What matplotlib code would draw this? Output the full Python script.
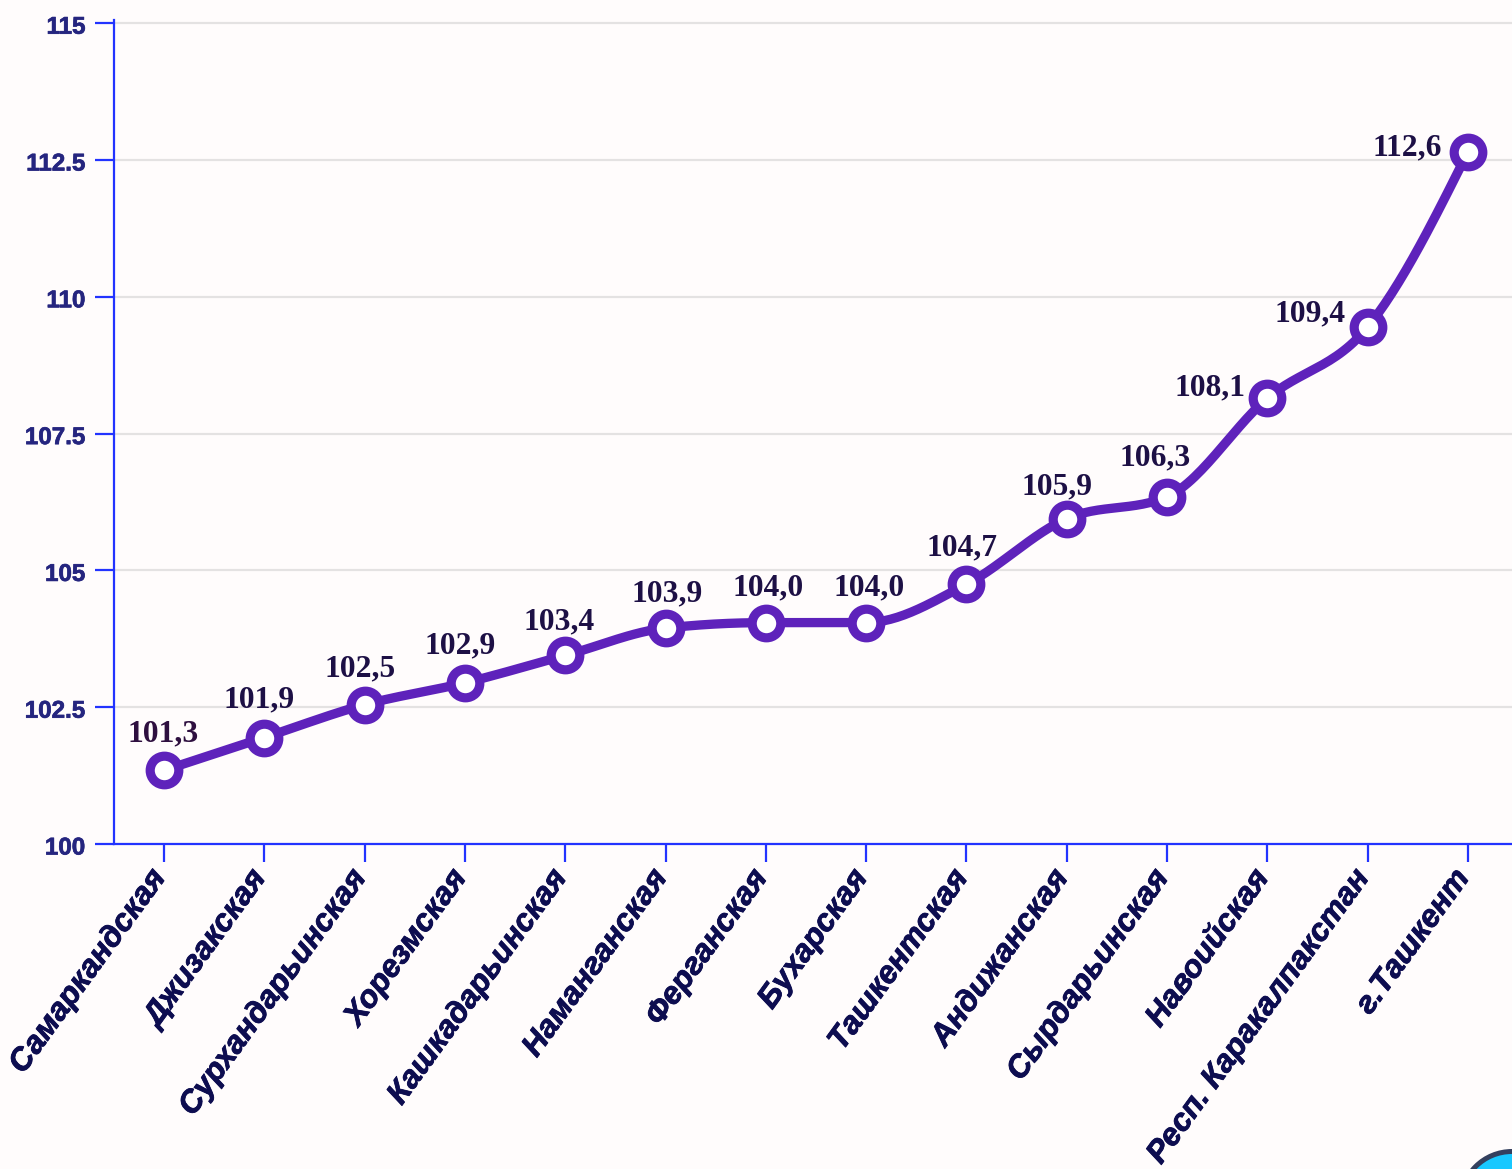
import numpy as np
import matplotlib
matplotlib.use("Agg")
import matplotlib.pyplot as plt
import matplotlib.patheffects as pe
from matplotlib.patches import Circle
from matplotlib.transforms import ScaledTranslation, IdentityTransform

regions = ["Самаркандская", "Джизакская", "Сурхандарьинская", "Хорезмская",
           "Кашкадарьинская", "Наманганская", "Ферганская", "Бухарская",
           "Ташкентская", "Андижанская", "Сырдарьинская", "Навоийская",
           "Респ. Каракалпакстан", "г.Ташкент"]
values = [101.3, 101.9, 102.5, 102.9, 103.4, 103.9, 104.0, 104.0,
          104.7, 105.9, 106.3, 108.1, 109.4, 112.6]
value_labels = ["101,3", "101,9", "102,5", "102,9", "103,4", "103,9", "104,0",
                "104,0", "104,7", "105,9", "106,3", "108,1", "109,4", "112,6"]
y_ticks = [100, 102.5, 105, 107.5, 110, 112.5, 115]
y_tick_labels = ["100", "102.5", "105", "107.5", "110", "112.5", "115"]

W, H = 1512, 1169
DPI = 100
BG = "#fffcfc"
AX = "#2233ff"
PURPLE = "#5e22bb"
LEFT, RIGHT, TOP, BOT = 114, 1512, 20, 844
STEP = 100.3
PX_PER_UNIT = 54.72


def monotone(xs, ys, n=30):
    """Monotone cubic curve between the points (the chart's smooth line)."""
    xs, ys = np.asarray(xs, float), np.asarray(ys, float)
    h = np.diff(xs)
    s = np.diff(ys) / h
    m = np.zeros_like(ys)
    for i in range(1, len(ys) - 1):
        p = (s[i - 1] * h[i] + s[i] * h[i - 1]) / (h[i - 1] + h[i])
        m[i] = (np.sign(s[i - 1]) + np.sign(s[i])) * min(abs(s[i - 1]), abs(s[i]), 0.5 * abs(p))
    m[0] = (3 * s[0] - m[1]) / 2
    m[-1] = (3 * s[-1] - m[-2]) / 2
    X, Y = [], []
    for i in range(len(h)):
        t = np.linspace(0, 1, n)
        a = 2 * t**3 - 3 * t**2 + 1
        b = t**3 - 2 * t**2 + t
        c = -2 * t**3 + 3 * t**2
        d = t**3 - t**2
        X.append(xs[i] + t * h[i])
        Y.append(a * ys[i] + b * h[i] * m[i] + c * ys[i + 1] + d * h[i] * m[i + 1])
    return np.concatenate(X), np.concatenate(Y)


def px(dx, dy):
    return ScaledTranslation(dx / DPI, dy / DPI, fig.dpi_scale_trans)


fig = plt.figure(figsize=(W / DPI, H / DPI), dpi=DPI, facecolor=BG)
ax = fig.add_axes([LEFT / W, 1 - BOT / H, (RIGHT - LEFT) / W, (BOT - TOP) / H], facecolor=BG)
ax.set_ylim(100, 100 + (BOT - TOP) / PX_PER_UNIT)
ax.set_xlim(-50 / STEP, (RIGHT - 164) / STEP)

pos = np.arange(len(regions))
cx, cy = monotone(pos, values)
mark_tr = ax.transData + px(0, 2.5)
ax.plot(cx, cy, color=PURPLE, lw=6.7, solid_capstyle="round", zorder=3, clip_on=False,
        transform=mark_tr)
ax.plot(pos, values, ls="none", marker="o", ms=20.6, mfc="white", mec=PURPLE, mew=6.6,
        zorder=4, clip_on=False, transform=mark_tr)

ax.set_yticks(y_ticks)
ax.set_yticklabels(y_tick_labels, fontfamily="Liberation Sans", fontweight="bold",
                   fontsize=17.4, color="#25257f")
ax.set_xticks(pos)
ax.set_xticklabels(regions, rotation=54, ha="right", va="top", rotation_mode="anchor",
                   fontfamily="Liberation Sans", fontweight="bold", fontstyle="italic",
                   fontsize=22.7, color="#0d0d50")
ax.tick_params(axis="y", length=13.7, width=1.6, color=AX, pad=7)
ax.tick_params(axis="x", length=13, width=1.6, color=AX, pad=0)
for lab in ax.get_yticklabels():
    lab.set_transform(lab.get_transform() + px(0, -1.5))
    lab.set_path_effects([pe.withStroke(linewidth=0.5, foreground="#25257f")])
for lab in ax.get_xticklabels():
    lab.set_transform(lab.get_transform() + px(-16.5, -2.5))
    lab.set_path_effects([pe.withStroke(linewidth=0.6, foreground="#0d0d50")])

for s in ["top", "right"]:
    ax.spines[s].set_visible(False)
for s in ["left", "bottom"]:
    ax.spines[s].set_color(AX)
    ax.spines[s].set_linewidth(1.6)
ax.grid(axis="y", color="#e4e2e2", lw=1.6, zorder=0)
ax.set_axisbelow(True)

# label placement, in pixels from the point (dx of the label's centre, dy up)
offs = [(-1, 39.3), (-5, 40), (-5, 38.5), (-5, 39.6), (-6, 35.7), (2, 36.8), (2, 36.8),
        (3, 36.8), (-4, 39), (-10, 34.2), (-12, 41.3), (-57, 12.7), (-58, 15.9), (-61, 6.6)]
colors = ["#2e0f3f"] + ["#1d1045"] * (len(values) - 1)
for x, v, t, (dx, dy), c in zip(pos, values, value_labels, offs, colors):
    ax.annotate(t, (x, v), xytext=(dx * 0.72, dy * 0.72), textcoords="offset points",
                ha="center", va="center", fontfamily="Liberation Serif", fontweight="bold",
                fontsize=22.7, color=c, zorder=5)

# chat-widget corner at the bottom right of the page
fig.add_artist(Circle((1512, H - 1203), 51.5, transform=IdentityTransform(),
                      fc="#18c8ff", ec="#34405e", lw=3.6))
fig.savefig("out.png", dpi=DPI, facecolor=BG)
